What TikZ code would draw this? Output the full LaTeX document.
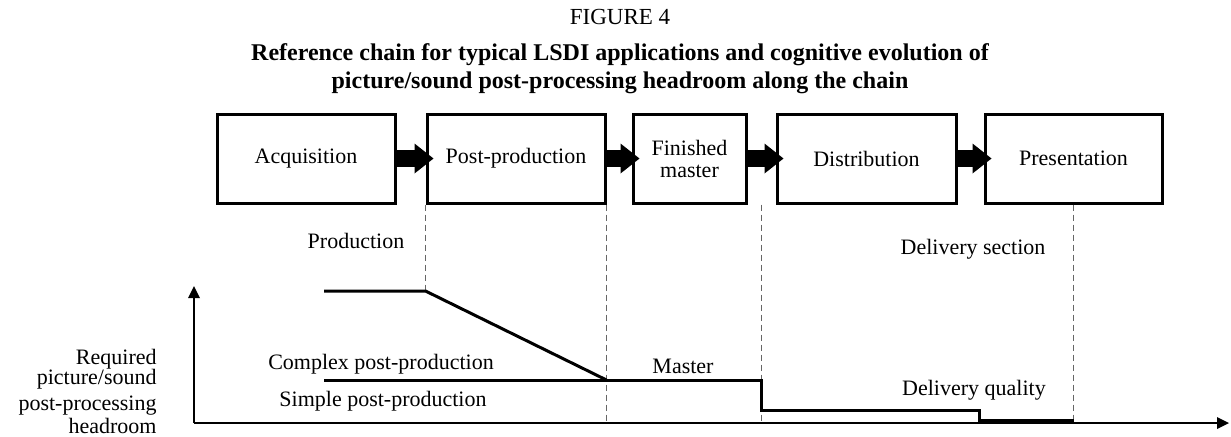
\documentclass[tikz,border=0pt]{standalone}
\usepackage{fontspec}
\setmainfont{Liberation Serif}
\usetikzlibrary{arrows.meta,calc}

\begin{document}
\begin{tikzpicture}[x=0.5pt,y=-0.5pt,
    stage/.style={draw=black, line width=1.5pt, minimum height=44.5pt, inner sep=0pt,
      align=center, font=\fontsize{11}{11}\selectfont},
    flowarrow/.style={line width=8.5pt, -{Triangle[length=9.5pt,width=15pt,line width=0pt]}},
    guide/.style={draw=black!60, line width=0.5pt, dash pattern=on 3pt off 2pt},
    level/.style={line width=1.5pt},
    axis/.style={line width=0.75pt, -{Triangle[length=6pt,width=6pt,line width=0pt]}},
    lbl/.style={inner sep=0pt, font=\fontsize{11}{11}\selectfont}]

  \useasboundingbox (0,0) rectangle (1231,436);

  % heading
  \node[font=\fontsize{11.5}{13}\selectfont] (fig) at (620,17) {FIGURE 4};
  \node[font=\bfseries\fontsize{12}{14}\selectfont, align=center] (title) at (620,69)
    {Reference chain for typical LSDI applications and cognitive evolution of\\
     picture/sound post-processing headroom along the chain};

  % the chain
  \foreach \n/\x/\w/\t in {acq/306/89/Acquisition, post/516/89/Post-production,
      fin/689.5/56.5/{Finished\\master}, dist/866.5/89.5/Distribution,
      pres/1073.5/88.5/Presentation} {
    \node[stage, minimum width=\w pt] (\n) at (\x,158.5) {\t};
  }
  \foreach \a/\b in {acq/post, post/fin, fin/dist, dist/pres} {
    \draw[flowarrow] (\a.east) -- ([xshift=4pt]\b.west);
  }

  % axes
  \coordinate (orig) at (194,423);
  \coordinate (ytip) at (194,286);
  \coordinate (xtip) at (1229,423);
  \draw[axis] (orig) -- (ytip);
  \draw[axis] (orig) -- (xtip);

  % levels
  \coordinate (hy) at (0,291);
  \coordinate (my) at (0,380);
  \coordinate (dy) at (0,410);
  \coordinate (ey) at (0,420);
  \coordinate (split) at ($(fin.south east)!0.5!(dist.south west)$);
  \coordinate (drop) at (979,0);

  \draw[guide] (post.south west) -- (post.south west |- hy);
  \draw[guide] (post.south east) -- (post.south east |- orig);
  \draw[guide] (split) -- (split |- orig);
  \draw[guide] (pres.south) -- (pres.south |- ey);

  \draw[level] (324,291) -- (post.south west |- hy) -- (post.south east |- my);
  \draw[level] (324,380) -- (split |- my) -- (split |- dy)
    -- (drop |- dy) -- (drop |- ey) -- (pres.south |- ey);

  % labels
  \node[lbl] (prod) at (356,241) {Production};
  \node[lbl] (dsec) at (973,249) {Delivery section};
  \node[lbl] (cplx) at (381,364) {Complex post-production};
  \node[lbl] (simp) at (383,401) {Simple post-production};
  \node[lbl] (mstr) at (683,366) {Master};
  \node[lbl] (dqual) at (974,390) {Delivery quality};
  \node[lbl, anchor=east, align=right,
    font=\fontsize{11}{10}\selectfont] (head) at (157,391)
    {Required\\picture/sound\\[3pt]post-processing\\[0.5pt]headroom};
\end{tikzpicture}
\end{document}
